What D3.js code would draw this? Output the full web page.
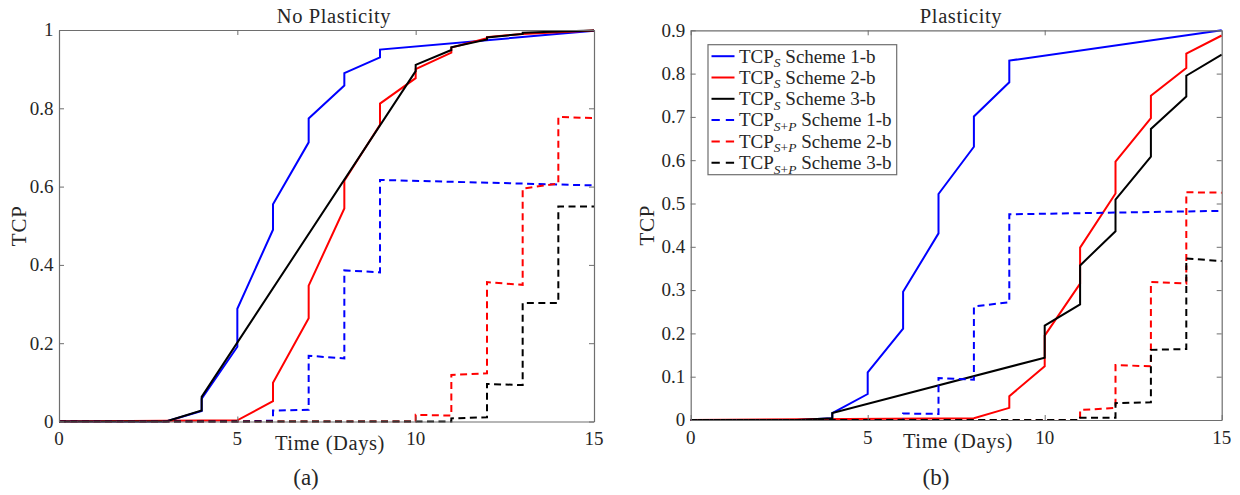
<!DOCTYPE html>
<html>
<head>
<meta charset="utf-8">
<script src="https://cdn.jsdelivr.net/npm/d3@7/dist/d3.min.js"></script>
<style>
  html, body { margin: 0; padding: 0; background: #fff; }
  svg { display: block; }
  svg text { font-family: "Liberation Serif", "DejaVu Serif", serif; fill: #262626; }
</style>
</head>
<body>
<svg id="chart" width="1240" height="495"></svg>
<script>
// Time axis ticks (days) and TCP ticks for each panel
const dayTicks = [0, 5, 10, 15];
const tcpTicksNoPlast = [0, 0.2, 0.4, 0.6, 0.8, 1];
const tcpTicksPlast = [0, 0.1, 0.2, 0.3, 0.4, 0.5, 0.6, 0.7, 0.8, 0.9];

// Series: [day, TCP] pairs. Steps at whole days are drawn as vertical jumps.
// (a) No plasticity
const noPlastS1 = [[0,0],[3,0],[4,0.027],[4,0.058],[5,0.191],[5,0.288],[6,0.49],[6,0.555],[7,0.713],[7,0.774],[8,0.858],[8,0.89],[9,0.93],[9,0.95],[15,0.998]];
const noPlastS2 = [[0,0],[5,0.003],[6,0.052],[6,0.099],[7,0.264],[7,0.347],[8,0.544],[8,0.615],[9,0.758],[9,0.812],[10,0.877],[10,0.9],[11,0.942],[11,0.955],[12,0.979],[12,0.982],[13,0.99],[15,0.999]];
const noPlastS3 = [[0,0],[3,0],[4,0.028],[4,0.063],[10,0.895],[10,0.911],[11,0.949],[11,0.956],[12,0.976],[12,0.981],[13,0.99],[13,0.993],[14,0.996],[15,0.999]];
const noPlastSP1 = [[0,0],[5,0],[6,0.002],[6,0.028],[7,0.03],[7,0.168],[8,0.161],[8,0.386],[9,0.381],[9,0.617],[15,0.603]];
const noPlastSP2 = [[0,0],[10,0],[10,0.017],[11,0.015],[11,0.119],[12,0.123],[12,0.356],[13,0.349],[13,0.595],[14,0.608],[14,0.778],[15,0.775]];
const noPlastSP3 = [[0,0],[11,0],[11,0.008],[12,0.011],[12,0.096],[13,0.093],[13,0.303],[14,0.303],[14,0.549],[15,0.549]];

// (b) Plasticity
const plastS1 = [[0,0],[3,0],[4,0.004],[4,0.016],[5,0.06],[5,0.11],[6,0.211],[6,0.296],[7,0.431],[7,0.522],[8,0.631],[8,0.701],[9,0.78],[9,0.83],[15,0.9]];
const plastS2 = [[0,0],[8,0.004],[9,0.028],[9,0.055],[10,0.124],[10,0.195],[11,0.315],[11,0.398],[12,0.523],[12,0.597],[13,0.697],[13,0.749],[14,0.813],[14,0.846],[15,0.888]];
const plastS3 = [[0,0],[3,0],[4,0.004],[4,0.016],[10,0.144],[10,0.218],[11,0.267],[11,0.357],[12,0.436],[12,0.509],[13,0.608],[13,0.672],[14,0.747],[14,0.795],[15,0.844]];
const plastSP1 = [[0,0],[6,0],[6,0.015],[7,0.014],[7,0.097],[8,0.093],[8,0.262],[9,0.272],[9,0.475],[15,0.483]];
const plastSP2 = [[0,0],[11,0],[11,0.023],[12,0.028],[12,0.127],[13,0.124],[13,0.319],[14,0.315],[14,0.526],[15,0.525]];
const plastSP3 = [[0,0],[11,0],[11,0.005],[12,0.005],[12,0.039],[13,0.041],[13,0.162],[14,0.164],[14,0.373],[15,0.367]];

// Legend entries: subscript, scheme label
const legendSubs = ["S", "S", "S", "S+P", "S+P", "S+P"];
const legendSchemes = ["Scheme 1-b", "Scheme 2-b", "Scheme 3-b", "Scheme 1-b", "Scheme 2-b", "Scheme 3-b"];

const seriesColors = ["#0000ff", "#ff0000", "#000000", "#0000ff", "#ff0000", "#000000"];
const seriesDashed = [false, false, false, true, true, true];

const FONT = "Liberation Serif";
const svg = d3.select("#chart");
const AXIS_COLOR = "#6e6e6e";
const TICK_LEN = 5;

function addText(parent) {
  return parent.append("text").attr("font-family", FONT).attr("fill", "#262626");
}

function drawPanel(cfg) {
  const x = d3.scaleLinear().domain([0, 15]).range([cfg.left, cfg.right]);
  const y = d3.scaleLinear().domain([0, cfg.yMax]).range([cfg.bottom, cfg.top]);
  const g = svg.append("g");

  g.append("rect")
    .attr("x", cfg.left).attr("y", cfg.top)
    .attr("width", cfg.right - cfg.left).attr("height", cfg.bottom - cfg.top)
    .attr("fill", "#fff");

  // series
  const line = d3.line().x(d => x(d[0])).y(d => y(d[1]));
  cfg.series.forEach((s, i) => {
    g.append("path")
      .attr("d", line(s))
      .attr("fill", "none")
      .attr("stroke", seriesColors[i])
      .attr("stroke-width", 2)
      .attr("stroke-linejoin", "miter")
      .attr("stroke-dasharray", seriesDashed[i] ? "7,4.5" : null);
  });

  // axes on all four sides, ticks pointing inward
  const bottomAxis = d3.axisBottom(x).tickValues(dayTicks).tickSize(-TICK_LEN).tickSizeOuter(0).tickFormat("");
  const topAxis = d3.axisTop(x).tickValues(dayTicks).tickSize(-TICK_LEN).tickSizeOuter(0).tickFormat("");
  const leftAxis = d3.axisLeft(y).tickValues(cfg.yTicks).tickSize(-TICK_LEN).tickSizeOuter(0).tickFormat("");
  const rightAxis = d3.axisRight(y).tickValues(cfg.yTicks).tickSize(-TICK_LEN).tickSizeOuter(0).tickFormat("");

  [[bottomAxis, `translate(0,${cfg.bottom})`], [topAxis, `translate(0,${cfg.top})`],
   [leftAxis, `translate(${cfg.left},0)`], [rightAxis, `translate(${cfg.right},0)`]].forEach(([ax, tr]) => {
    const a = g.append("g").attr("transform", tr).call(ax);
    a.select(".domain").attr("stroke", AXIS_COLOR).attr("stroke-width", 1.2);
    a.selectAll(".tick line").attr("stroke", AXIS_COLOR).attr("stroke-width", 1);
    a.selectAll(".tick text").remove();
  });

  // tick labels
  dayTicks.forEach(d => {
    addText(g).attr("x", x(d)).attr("y", cfg.bottom + 23.5)
      .attr("text-anchor", "middle").attr("font-size", 19).text(d);
  });
  cfg.yTicks.forEach(d => {
    addText(g).attr("x", cfg.left - 5.5).attr("y", y(d) + 6.3)
      .attr("text-anchor", "end").attr("font-size", 19)
      .text(String(+d.toFixed(1)));
  });

  // title, axis labels, panel tag
  addText(g).attr("x", cfg.titleX).attr("y", 22.5)
    .attr("text-anchor", "middle").attr("font-size", 20.5).attr("letter-spacing", 0.6)
    .text(cfg.title);
  addText(g).attr("x", cfg.xLabelX).attr("y", cfg.bottom + 28)
    .attr("text-anchor", "middle").attr("font-size", 20.5).attr("letter-spacing", 0.6)
    .text("Time (Days)");
  addText(g)
    .attr("transform", `translate(${cfg.yLabelX},${(cfg.top + cfg.bottom) / 2}) rotate(-90)`)
    .attr("text-anchor", "middle").attr("font-size", 21).attr("letter-spacing", 0.8)
    .text("TCP");
  addText(g).attr("x", cfg.tagX).attr("y", 485)
    .attr("text-anchor", "middle").attr("font-size", 23)
    .text(cfg.tag);

  return { x, y, g };
}

drawPanel({
  left: 59, right: 594, top: 30, bottom: 421.5, yMax: 1,
  yTicks: tcpTicksNoPlast,
  series: [noPlastS1, noPlastS2, noPlastS3, noPlastSP1, noPlastSP2, noPlastSP3],
  title: "No Plasticity", titleX: 334, xLabelX: 330, yLabelX: 26, tagX: 306, tag: "(a)"
});

drawPanel({
  left: 690.7, right: 1221.7, top: 30.3, bottom: 420, yMax: 0.9,
  yTicks: tcpTicksPlast,
  series: [plastS1, plastS2, plastS3, plastSP1, plastSP2, plastSP3],
  title: "Plasticity", titleX: 961, xLabelX: 958, yLabelX: 654, tagX: 936, tag: "(b)"
});

// legend (panel b)
const lg = svg.append("g");
lg.append("rect")
  .attr("x", 708).attr("y", 44.7).attr("width", 188.7).attr("height", 130)
  .attr("fill", "#fff").attr("stroke", AXIS_COLOR).attr("stroke-width", 1.2);
const rowY = d3.scaleLinear().domain([0, 5]).range([56.2, 162.7]);
legendSubs.forEach((sub, i) => {
  const yy = rowY(i);
  lg.append("line")
    .attr("x1", 711.5).attr("x2", 734.5).attr("y1", yy).attr("y2", yy)
    .attr("stroke", seriesColors[i]).attr("stroke-width", 2)
    .attr("stroke-dasharray", seriesDashed[i] ? "8.3,6" : null);
  const t = addText(lg).attr("x", 739).attr("y", yy + 6.3).attr("font-size", 19);
  t.append("tspan").text("TCP");
  const parts = sub === "S" ? [["S", true]] : [["S", true], ["+", false], ["P", true]];
  parts.forEach(([p, it], k) => {
    const ts = t.append("tspan").attr("font-size", 13.5).attr("font-style", it ? "italic" : "normal").text(p);
    if (k === 0) ts.attr("dy", 4.5);
  });
  t.append("tspan").attr("dy", -4.5).text(" " + legendSchemes[i]);
});
</script>
</body>
</html>
